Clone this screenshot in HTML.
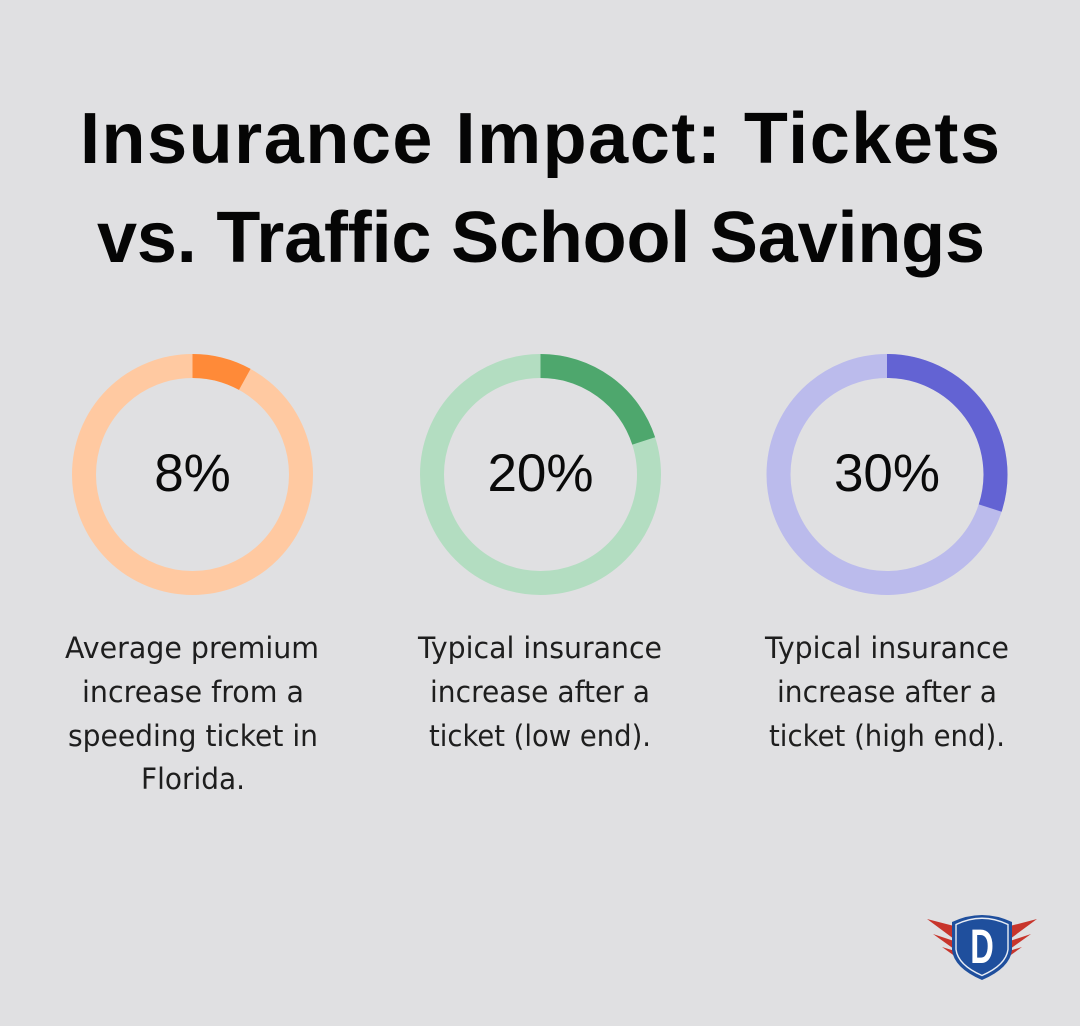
<!DOCTYPE html>
<html>
<head>
<meta charset="utf-8">
<style>
  html,body{margin:0;padding:0;background:#e0e0e2;}
  svg{display:block;}
  .title{font-family:"Liberation Sans",Arial,sans-serif;font-weight:bold;font-size:72px;fill:#050505;}
  .pct{font-family:"Liberation Sans",Arial,sans-serif;font-size:53px;fill:#0a0a0a;}
  .desc{font-family:"DejaVu Sans","Liberation Sans",sans-serif;font-size:29px;fill:#1e1e1e;}
</style>
</head>
<body>
<svg width="1080" height="1026" viewBox="0 0 1080 1026" xmlns="http://www.w3.org/2000/svg">
  <rect width="1080" height="1026" fill="#e0e0e2"/>

  <text class="title" x="80" y="163" textLength="920" lengthAdjust="spacing">Insurance Impact: Tickets</text>
  <text class="title" x="97" y="262" textLength="888" lengthAdjust="spacing">vs. Traffic School Savings</text>

  <!-- Donut 1 -->
  <circle cx="192.5" cy="474.5" r="108.5" fill="none" stroke="#ffc9a1" stroke-width="24"/>
  <path d="M192.5,366 A108.5,108.5 0 0 1 244.77,379.42" fill="none" stroke="#ff8a38" stroke-width="24"/>
  <text class="pct" x="192.5" y="491" text-anchor="middle">8%</text>

  <!-- Donut 2 -->
  <circle cx="540.5" cy="474.5" r="108.5" fill="none" stroke="#b3ddc1" stroke-width="24"/>
  <path d="M540.5,366 A108.5,108.5 0 0 1 643.69,440.97" fill="none" stroke="#4ea76d" stroke-width="24"/>
  <text class="pct" x="540.5" y="491" text-anchor="middle">20%</text>

  <!-- Donut 3 -->
  <circle cx="887" cy="474.5" r="108.5" fill="none" stroke="#bbbbec" stroke-width="24"/>
  <path d="M887,366 A108.5,108.5 0 0 1 990.19,508.03" fill="none" stroke="#6363d3" stroke-width="24"/>
  <text class="pct" x="887" y="491" text-anchor="middle">30%</text>

  <!-- Descriptions -->
  <text class="desc" x="65" y="658" textLength="254" lengthAdjust="spacingAndGlyphs">Average premium</text>
  <text class="desc" x="82" y="702" textLength="222" lengthAdjust="spacingAndGlyphs">increase from a</text>
  <text class="desc" x="68" y="746" textLength="250" lengthAdjust="spacingAndGlyphs">speeding ticket in</text>
  <text class="desc" x="141" y="789" textLength="104" lengthAdjust="spacingAndGlyphs">Florida.</text>

  <text class="desc" x="418" y="658" textLength="244" lengthAdjust="spacingAndGlyphs">Typical insurance</text>
  <text class="desc" x="430" y="702" textLength="220" lengthAdjust="spacingAndGlyphs">increase after a</text>
  <text class="desc" x="429" y="746" textLength="222" lengthAdjust="spacingAndGlyphs">ticket (low end).</text>

  <text class="desc" x="765" y="658" textLength="244" lengthAdjust="spacingAndGlyphs">Typical insurance</text>
  <text class="desc" x="777" y="702" textLength="220" lengthAdjust="spacingAndGlyphs">increase after a</text>
  <text class="desc" x="769" y="746" textLength="236" lengthAdjust="spacingAndGlyphs">ticket (high end).</text>

  <!-- Logo -->
  <g>
    <polygon points="954,926 927,919 954,939" fill="#c8352c"/>
    <polygon points="954,941 933,934 954,949" fill="#c8352c"/>
    <polygon points="955,951 942,947 956,957" fill="#c8352c"/>
    <polygon points="1010,926 1037,919 1010,939" fill="#c8352c"/>
    <polygon points="1010,941 1031,934 1010,949" fill="#c8352c"/>
    <polygon points="1009,951 1022,947 1008,957" fill="#c8352c"/>
    <path d="M952,922 Q982,908 1012,922 L1012,950 Q1010,968 982,980 Q954,968 952,950 Z" fill="#1f4f9d"/>
    <path d="M956,924.5 Q982,912 1008,924.5 L1008,949.5 Q1006,965 982,975.5 Q958,965 956,949.5 Z" fill="none" stroke="#e8edf5" stroke-width="1.4"/>
    <text x="0" y="0" transform="translate(982,963) scale(0.68,1)" text-anchor="middle" font-family="Liberation Sans, Arial, sans-serif" font-weight="bold" font-size="48" fill="#ffffff">D</text>
  </g>
</svg>
</body>
</html>
